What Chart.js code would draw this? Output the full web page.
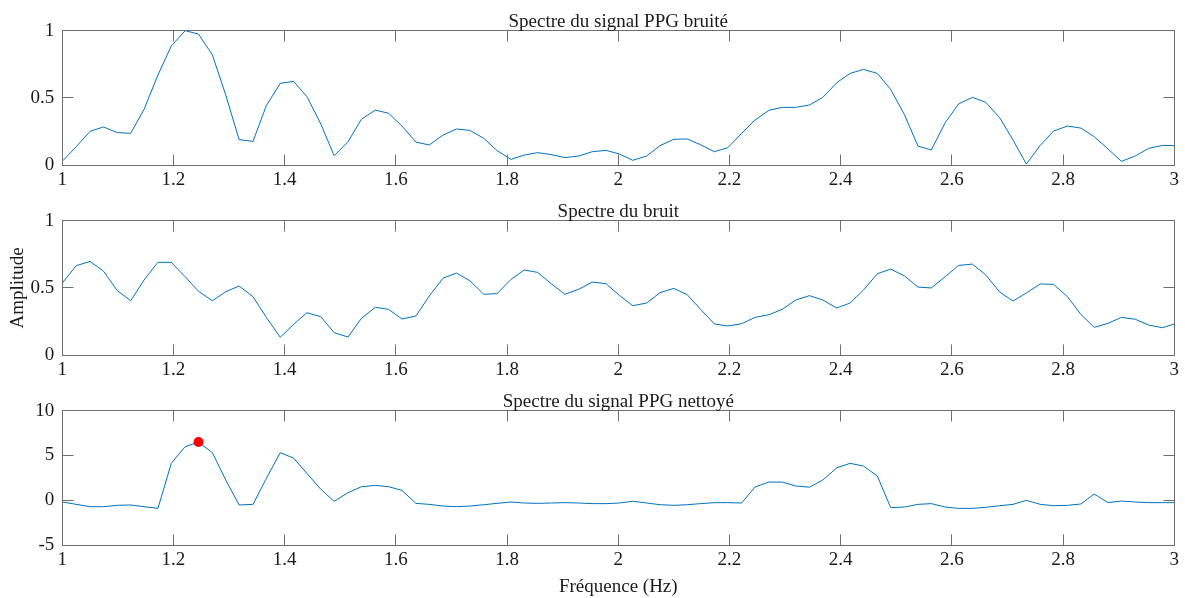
<!DOCTYPE html>
<html lang="fr">
<head>
<meta charset="utf-8">
<title>Spectres PPG</title>
<script src="https://cdn.jsdelivr.net/npm/chart.js@4.4.1/dist/chart.umd.min.js"></script>
<style>
    html, body { margin: 0; padding: 0; background: #fff; }
    #wrap { position: relative; width: 1185px; height: 598px; overflow: hidden; }
    #wrap canvas { position: absolute; left: 0; }
</style>
</head>
<body>
<div id="wrap">
    <canvas id="spectrumNoisy" width="1185" height="200" style="top:0px"></canvas>
    <canvas id="spectrumNoise" width="1185" height="200" style="top:190px"></canvas>
    <canvas id="spectrumClean" width="1185" height="218" style="top:380px"></canvas>
</div>
<script>
// ================================
// DATA
// ================================
// FFT bins between 1 and 3 Hz (fs = 100 Hz, N = 4096)
const freqHz = [
    1.001, 1.025, 1.050, 1.074, 1.099, 1.123, 1.147, 1.172, 1.196, 1.221,
    1.245, 1.270, 1.294, 1.318, 1.343, 1.367, 1.392, 1.416, 1.440, 1.465,
    1.489, 1.514, 1.538, 1.563, 1.587, 1.611, 1.636, 1.660, 1.685, 1.709,
    1.733, 1.758, 1.782, 1.807, 1.831, 1.855, 1.880, 1.904, 1.929, 1.953,
    1.978, 2.002, 2.026, 2.051, 2.075, 2.100, 2.124, 2.148, 2.173, 2.197,
    2.222, 2.246, 2.271, 2.295, 2.319, 2.344, 2.368, 2.393, 2.417, 2.441,
    2.466, 2.490, 2.515, 2.539, 2.563, 2.588, 2.612, 2.637, 2.661, 2.686,
    2.710, 2.734, 2.759, 2.783, 2.808, 2.832, 2.856, 2.881, 2.905, 2.930,
    2.954, 2.979, 3.003
];

// normalised spectrum of the noisy PPG
const noisyAmp = [
    0.032, 0.136, 0.251, 0.283, 0.241, 0.236, 0.414, 0.670, 0.886, 1.000,
    0.975, 0.819, 0.521, 0.189, 0.176, 0.442, 0.608, 0.623, 0.509, 0.305,
    0.069, 0.174, 0.340, 0.409, 0.385, 0.290, 0.171, 0.149, 0.223, 0.268,
    0.258, 0.199, 0.107, 0.042, 0.074, 0.092, 0.077, 0.055, 0.067, 0.099,
    0.109, 0.082, 0.035, 0.067, 0.144, 0.191, 0.194, 0.151, 0.099, 0.129,
    0.236, 0.335, 0.407, 0.429, 0.429, 0.447, 0.504, 0.613, 0.682, 0.712,
    0.682, 0.563, 0.372, 0.141, 0.112, 0.315, 0.454, 0.504, 0.467, 0.352,
    0.186, 0.007, 0.146, 0.253, 0.290, 0.275, 0.211, 0.119, 0.027, 0.067,
    0.124, 0.146, 0.144
];

// normalised spectrum of the noise reference
const noiseAmp = [
    0.541, 0.665, 0.697, 0.625, 0.479, 0.404, 0.558, 0.690, 0.690, 0.583,
    0.474, 0.404, 0.471, 0.514, 0.434, 0.280, 0.132, 0.228, 0.315, 0.285,
    0.166, 0.134, 0.273, 0.355, 0.340, 0.268, 0.290, 0.439, 0.573, 0.610,
    0.553, 0.452, 0.457, 0.563, 0.633, 0.615, 0.529, 0.452, 0.489, 0.543,
    0.531, 0.444, 0.367, 0.387, 0.464, 0.496, 0.449, 0.340, 0.231, 0.216,
    0.233, 0.280, 0.300, 0.340, 0.409, 0.442, 0.409, 0.350, 0.387, 0.484,
    0.605, 0.640, 0.588, 0.506, 0.499, 0.583, 0.667, 0.677, 0.596, 0.469,
    0.402, 0.462, 0.529, 0.526, 0.434, 0.303, 0.206, 0.236, 0.280, 0.266,
    0.223, 0.203, 0.235
];

// spectrum after noise removal
const cleanAmp = [
    -0.20, -0.46, -0.72, -0.72, -0.57, -0.53, -0.72, -0.91, 4.12, 5.98,
     6.50,  5.31,  2.26, -0.53, -0.46,  2.44,  5.31,  4.71, 3.00, 1.22,
    -0.12,  0.84,  1.51,  1.66,  1.51,  1.10, -0.35, -0.46, -0.65, -0.72,
    -0.65, -0.50, -0.35, -0.20, -0.31, -0.35, -0.31, -0.27, -0.31, -0.38,
    -0.38, -0.31, -0.12, -0.31, -0.50, -0.57, -0.50, -0.38, -0.27, -0.27,
    -0.31,  1.48,  2.03,  2.03,  1.59,  1.46,  2.26,  3.62,  4.12, 3.82,
     2.70, -0.83, -0.76, -0.46, -0.38, -0.76, -0.91, -0.91, -0.79, -0.61,
    -0.46, -0.01, -0.46, -0.61, -0.57, -0.42,  0.69, -0.27, -0.09, -0.20,
    -0.27, -0.27, -0.27
];

const xTicks = [1, 1.2, 1.4, 1.6, 1.8, 2, 2.2, 2.4, 2.6, 2.8, 3];
const yTicksUnit = [0, 0.5, 1];
const yTicksClean = [-5, 0, 5, 10];

// ================================
// STYLE
// ================================
const FONT = "'Liberation Serif', 'Times New Roman', serif";
const FONT_SIZE = 19;
const TEXT_COLOR = '#1a1a1a';
const AXIS_COLOR = '#6e6e6e';
const LINE_COLOR = '#0072BD';
const TICK_LEN = 11;
const AXIS_LEFT = 62.3;
const PAD_RIGHT = 9.3;
const AREA_TOP = 30.7;
const AREA_BOTTOM = 165;

// box around the plot area with inward ticks on all four sides
const axisBox = {
    id: 'axisBox',
    afterDraw(chart) {
        const { ctx, chartArea: a, scales: { x, y } } = chart;
        const L = Math.floor(a.left) + 0.5;
        const R = Math.floor(a.right) + 0.5;
        const T = Math.floor(a.top) + 0.5;
        const B = Math.floor(a.bottom) + 0.5;

        ctx.save();
        ctx.strokeStyle = AXIS_COLOR;
        ctx.lineWidth = 1;
        ctx.strokeRect(L, T, R - L, B - T);
        ctx.beginPath();
        x.ticks.forEach(t => {
            const px = Math.floor(x.getPixelForValue(t.value)) + 0.5;
            ctx.moveTo(px, B); ctx.lineTo(px, B - TICK_LEN);
            ctx.moveTo(px, T); ctx.lineTo(px, T + TICK_LEN);
        });
        y.ticks.forEach(t => {
            const py = Math.floor(y.getPixelForValue(t.value)) + 0.5;
            ctx.moveTo(L, py); ctx.lineTo(L + TICK_LEN, py);
            ctx.moveTo(R, py); ctx.lineTo(R - TICK_LEN, py);
        });
        ctx.stroke();
        ctx.restore();
    }
};

// subplot title, centred over the plot area (not the whole canvas)
const panelTitle = {
    id: 'panelTitle',
    afterDraw(chart, args, opts) {
        if (!opts.text) return;
        const { ctx, chartArea: a } = chart;
        ctx.save();
        ctx.font = `${FONT_SIZE}px ${FONT}`;
        ctx.fillStyle = TEXT_COLOR;
        ctx.textAlign = 'center';
        ctx.textBaseline = 'alphabetic';
        ctx.fillText(opts.text, (a.left + a.right) / 2, a.top - 4);
        ctx.restore();
    }
};

function textFont() {
    return { family: FONT, size: FONT_SIZE, weight: 'normal', lineHeight: 1 };
}

// ================================
// PANEL BUILDER
// ================================
function renderPanel(canvasId, titleText, values, yRange, yTicks, opts = {}) {
    const canvas = document.getElementById(canvasId);
    if (!canvas) return;

    const xAxisHeight = opts.xTitle ? 53 : 30;
    const datasets = [{
        type: 'line',
        data: freqHz.map((f, i) => ({ x: f, y: values[i] })),
        borderColor: LINE_COLOR,
        borderWidth: 1,
        pointRadius: 0,
        tension: 0,
        fill: false,
        order: 2
    }];

    if (opts.markPeak) {
        const peak = values.indexOf(Math.max(...values));
        datasets.push({
            type: 'scatter',
            data: [{ x: freqHz[peak], y: values[peak] }],
            backgroundColor: '#ff0000',
            borderWidth: 0,
            pointRadius: 5,
            order: 1
        });
    }

    return new Chart(canvas, {
        type: 'line',
        data: { datasets },
        plugins: [axisBox, panelTitle],
        options: {
            responsive: false,
            animation: false,
            events: [],
            layout: {
                padding: {
                    left: 0,
                    right: PAD_RIGHT,
                    top: AREA_TOP,
                    bottom: canvas.height - AREA_BOTTOM - xAxisHeight
                }
            },
            plugins: {
                legend: { display: false },
                tooltip: { enabled: false },
                title: { display: false },
                panelTitle: { text: titleText }
            },
            scales: {
                x: {
                    type: 'linear',
                    min: 1,
                    max: 3,
                    afterBuildTicks: s => { s.ticks = xTicks.map(v => ({ value: v })); },
                    afterFit: s => { s.height = xAxisHeight; },
                    grid: { display: false, drawTicks: false },
                    border: { display: false },
                    ticks: {
                        color: TEXT_COLOR,
                        font: textFont(),
                        padding: 6,
                        maxRotation: 0,
                        autoSkip: false,
                        callback: v => String(v)
                    },
                    title: {
                        display: !!opts.xTitle,
                        text: opts.xTitle || '',
                        color: TEXT_COLOR,
                        font: textFont(),
                        padding: { top: 0, bottom: 1.5 }
                    }
                },
                y: {
                    type: 'linear',
                    min: yRange[0],
                    max: yRange[1],
                    afterBuildTicks: s => { s.ticks = yTicks.map(v => ({ value: v })); },
                    afterFit: s => { s.width = AXIS_LEFT; },
                    grid: { display: false, drawTicks: false },
                    border: { display: false },
                    ticks: {
                        color: TEXT_COLOR,
                        font: textFont(),
                        padding: 8,
                        autoSkip: false,
                        callback: v => String(v)
                    },
                    title: {
                        display: !!opts.yTitle,
                        text: opts.yTitle || '',
                        color: TEXT_COLOR,
                        font: textFont(),
                        padding: { top: 9, bottom: 0 }
                    }
                }
            }
        }
    });
}

// ================================
// INIT
// ================================
document.addEventListener('DOMContentLoaded', () => {
    if (typeof Chart === 'undefined') {
        console.error('Chart.js not loaded');
        return;
    }
    renderPanel('spectrumNoisy', 'Spectre du signal PPG bruité', noisyAmp, [0, 1], yTicksUnit);
    renderPanel('spectrumNoise', 'Spectre du bruit', noiseAmp, [0, 1], yTicksUnit, { yTitle: 'Amplitude' });
    renderPanel('spectrumClean', 'Spectre du signal PPG nettoyé', cleanAmp, [-5, 10], yTicksClean,
        { xTitle: 'Fréquence (Hz)', markPeak: true });
});
</script>
</body>
</html>
